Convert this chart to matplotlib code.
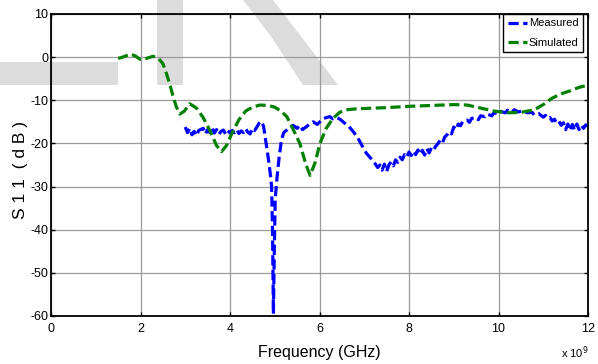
import matplotlib
matplotlib.use("Agg")
import matplotlib.pyplot as plt
from matplotlib.patches import Polygon
from matplotlib import font_manager

# measured S11 (GHz, dB)
meas_f = [3.00, 3.05, 3.10, 3.15, 3.20, 3.25, 3.30, 3.40, 3.45, 3.50, 3.55, 3.60, 3.65, 3.70,
          3.75, 3.80, 3.85, 3.90, 3.95, 4.00, 4.05, 4.10, 4.15, 4.20, 4.25, 4.30, 4.35, 4.40,
          4.45, 4.50, 4.55, 4.60, 4.65, 4.70, 4.75, 4.80, 4.85, 4.90, 4.93, 4.95, 4.97, 4.99,
          5.01, 5.05, 5.10, 5.15, 5.20, 5.27, 5.35, 5.41, 5.50, 5.56, 5.62, 5.71, 5.78, 5.86,
          5.95, 6.05, 6.15, 6.23, 6.30, 6.38, 6.46, 6.55, 6.65, 6.75, 6.85, 6.95, 7.05, 7.15,
          7.25, 7.30, 7.35, 7.40, 7.45, 7.50, 7.55, 7.60, 7.65, 7.70, 7.75, 7.80, 7.85, 7.90,
          7.95, 8.00, 8.05, 8.10, 8.15, 8.20, 8.25, 8.30, 8.35, 8.40, 8.45, 8.50, 8.55, 8.60,
          8.65, 8.70, 8.75, 8.80, 8.85, 8.90, 8.95, 9.00, 9.05, 9.10, 9.15, 9.20, 9.30, 9.35,
          9.40, 9.50, 9.55, 9.60, 9.70, 9.75, 9.85, 9.90, 10.00, 10.05, 10.15, 10.20, 10.30,
          10.35, 10.45, 10.55, 10.65, 10.75, 10.80, 10.90, 11.00, 11.05, 11.10, 11.15, 11.20,
          11.25, 11.30, 11.35, 11.40, 11.45, 11.50, 11.55, 11.60, 11.65, 11.70, 11.75, 11.80,
          11.85, 11.90, 11.95, 12.00]
meas_db = [-16.2, -17.5, -16.5, -18.0, -17.2, -18.2, -17.0, -16.5, -17.8, -16.8, -17.5, -16.3,
           -17.6, -16.8, -17.9, -17.2, -16.9, -17.8, -17.0, -17.6, -17.0, -17.5, -16.8, -17.7,
           -17.1, -17.5, -16.6, -17.4, -17.8, -16.5, -17.0, -16.2, -15.3, -14.9, -16.0, -19.5,
           -23.0, -27.0, -30.0, -40.0, -59.5, -45.0, -33.0, -28.0, -23.0, -19.2, -17.5, -16.9,
           -16.2, -15.8, -16.5, -15.8, -16.8, -16.1, -15.5, -15.0, -15.6, -14.5, -14.0, -13.8,
           -14.3, -14.0, -14.4, -15.2, -16.0, -17.2, -18.6, -20.5, -22.3, -23.5, -24.8, -25.6,
           -25.0, -26.2, -24.8, -26.5, -25.0, -24.3, -25.2, -23.8, -24.4, -23.2, -23.8, -22.6,
           -23.2, -22.0, -22.8, -21.8, -22.6, -21.5, -22.5, -21.6, -22.7, -21.2, -22.2, -21.0,
           -21.5, -20.6, -20.0, -19.2, -19.8, -18.5, -18.0, -17.3, -17.8, -16.2, -16.8, -15.5,
           -15.9, -14.9, -14.6, -15.1, -14.2, -14.0, -14.5, -13.6, -13.8, -13.2, -13.6, -12.9,
           -13.2, -12.6, -12.9, -12.3, -12.8, -12.2, -12.7, -12.4, -12.9, -12.8, -13.4, -13.1,
           -13.9, -13.5, -14.2, -14.0, -14.8, -14.4, -15.3, -14.9, -15.8, -15.2, -16.8, -15.5,
           -17.0, -15.6, -16.9, -15.5, -16.8, -15.8, -16.5, -15.7, -16.0]

# simulated S11 (GHz, dB)
sim_f = [1.50, 1.60, 1.77, 1.88, 1.99, 2.10, 2.28, 2.40, 2.50, 2.58, 2.66, 2.73, 2.80, 2.88,
         2.98, 3.10, 3.25, 3.40, 3.55, 3.70, 3.81, 3.92, 4.05, 4.20, 4.35, 4.50, 4.67, 4.85,
         5.00, 5.15, 5.27, 5.40, 5.56, 5.70, 5.79, 5.90, 6.01, 6.15, 6.30, 6.45, 6.60, 6.80,
         7.00, 7.50, 8.00, 8.50, 9.00, 9.30, 9.60, 9.90, 10.20, 10.50, 10.80, 11.00, 11.20,
         11.40, 11.60, 11.80, 12.00]
sim_db = [-0.3, 0.0, 0.7, 0.3, -0.5, -0.4, 0.2, -0.3, -1.5, -3.8, -6.5, -9.2, -11.5, -13.2,
          -12.5, -10.8, -11.8, -14.0, -17.0, -20.5, -21.9, -20.5, -17.5, -14.5, -12.5, -11.6,
          -11.1, -11.2, -11.6, -12.6, -13.8, -16.5, -20.0, -25.0, -27.4, -24.5, -20.0, -16.5,
          -14.2, -12.8, -12.2, -12.0, -11.9, -11.7, -11.4, -11.2, -11.0, -11.1, -11.8, -12.5,
          -12.9, -12.8, -12.2, -11.0, -9.5, -8.5, -7.8, -7.0, -6.5]

xticks = [0, 2, 4, 6, 8, 10, 12]
yticks = [-60, -50, -40, -30, -20, -10, 0, 10]

names = {f.name for f in font_manager.fontManager.ttflist}
narrow = "Liberation Sans Narrow" if "Liberation Sans Narrow" in names else "Liberation Sans"
plt.rcParams["font.family"] = [narrow, "DejaVu Sans"]

W, H = 598, 364
fig = plt.figure(figsize=(W / 100, H / 100), dpi=100)
ax = fig.add_axes([51 / W, 1 - 316 / H, 537 / W, 302 / H])
ax.set_facecolor("none")

# grey watermark behind the plot (pixel coordinates, y from top)
wm = "#dcdcdc"
def px(pts):
    return [(x / W, 1 - y / H) for x, y in pts]
for pts in ([(0, 62), (118, 62), (118, 85), (0, 85)],
            [(157, 0), (183, 0), (183, 85), (157, 85)],
            [(243, 0), (273, 0), (300, 35), (338, 85), (303, 85), (270, 35)]):
    fig.add_artist(Polygon(px(pts), closed=True, transform=fig.transFigure,
                           facecolor=wm, edgecolor="none", zorder=-5))

ax.plot(meas_f, meas_db, color="#0000ff", lw=2.3, ls=(0, (3.2, 1.4)), label="Measured")
ax.plot(sim_f, sim_db, color="#008000", lw=2.3, ls=(0, (3.2, 1.4)), label="Simulated")

ax.set_xlim(0, 12)
ax.set_ylim(-60, 10)
ax.set_xticks(xticks)
ax.set_yticks(yticks)
ax.set_xticklabels([str(t) for t in xticks])
ax.set_yticklabels([str(t) for t in yticks])
ax.grid(True, color="#9a9a9a", lw=0.9)
ax.tick_params(direction="in", top=True, right=True, length=3, width=1, labelsize=9)
ax.tick_params(axis="x", pad=5)
ax.tick_params(axis="y", pad=2)
for s in ax.spines.values():
    s.set_linewidth(1.3)

ax.set_xlabel("Frequency (GHz)", fontsize=11.5, labelpad=7)
ax.set_ylabel("S 1 1  ( d B )", fontsize=12.5, family=["Liberation Sans", "DejaVu Sans"])
ax.yaxis.set_label_coords(-0.042, 0.483)
fig.text(575 / W, 1 - 353 / H, r"x 10$^9$", fontsize=8, ha="center", va="center")

leg = ax.legend(loc="upper right", bbox_to_anchor=(0.9907, 1.0), borderaxespad=0,
                fontsize=8, handlelength=1.7, handletextpad=0.2, borderpad=0.4,
                labelspacing=0.85, fancybox=False, framealpha=1, edgecolor="black")
leg.get_frame().set_linewidth(1.0)

fig.savefig("out.png", dpi=100)
